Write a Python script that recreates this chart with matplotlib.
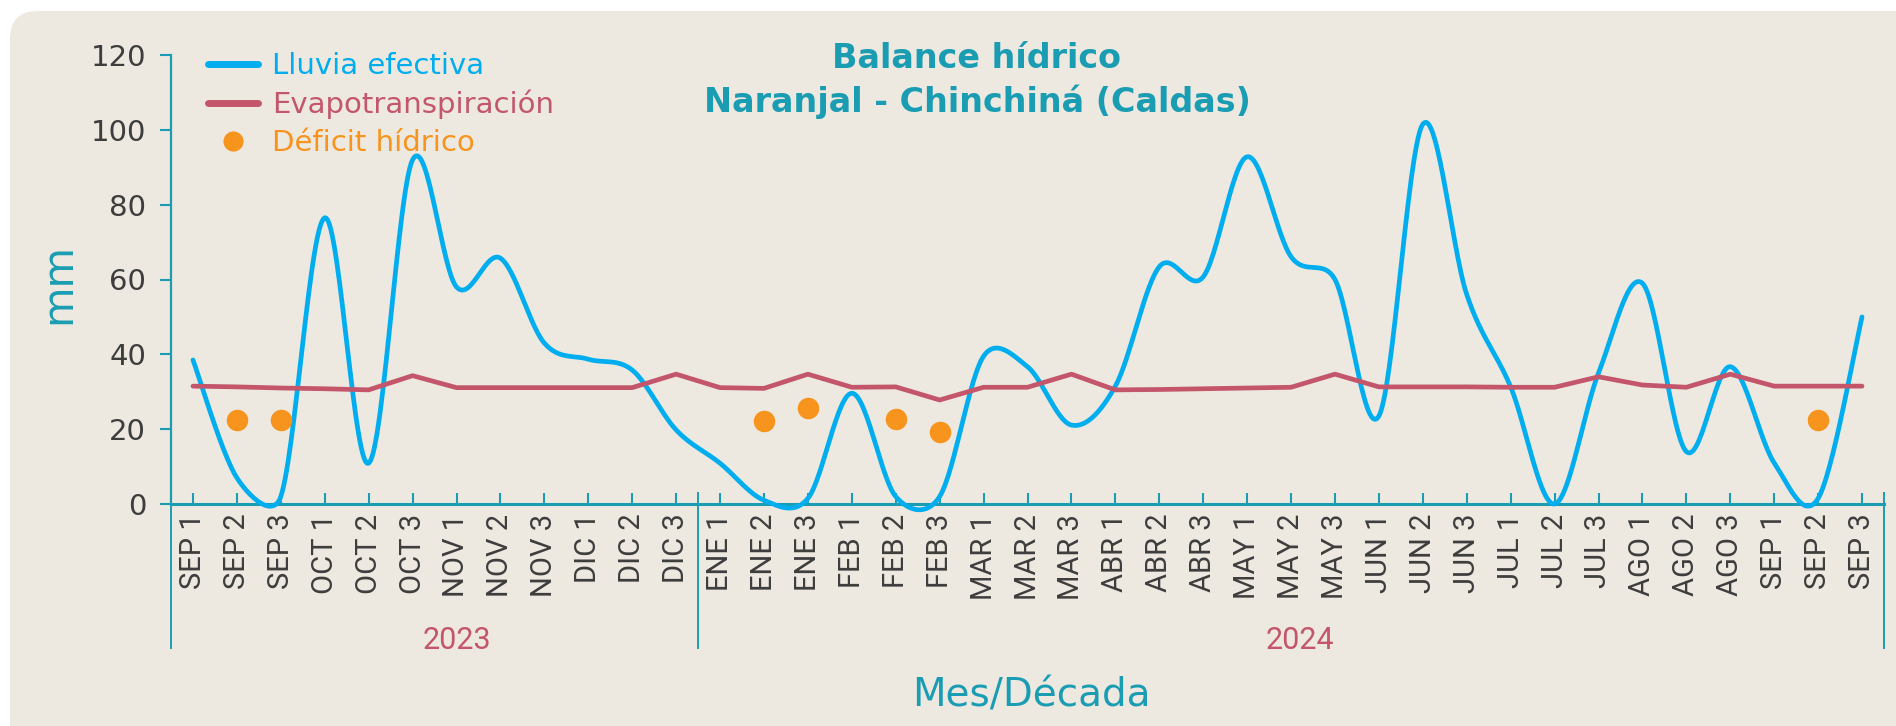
import numpy as np
import matplotlib
matplotlib.use("Agg")
import matplotlib.pyplot as plt
from matplotlib.patches import FancyBboxPatch
from matplotlib.lines import Line2D
import matplotlib.transforms as mtransforms

# decades (month + decade number)
months_2023 = ["SEP", "OCT", "NOV", "DIC"]
months_2024 = ["ENE", "FEB", "MAR", "ABR", "MAY", "JUN", "JUL", "AGO", "SEP"]
labels = [f"{m} {d}" for m in months_2023 for d in (1, 2, 3)] + \
         [f"{m} {d}" for m in months_2024 for d in (1, 2, 3)]

lluvia = [38.5, 7, 2, 76.5, 10.9, 92, 58, 65.7, 43, 38.7, 35.8, 19.8,
          10.9, 1, 1.5, 29.6, 2, 2, 39.5, 36.7, 21.1, 31.5, 63.4, 60.7,
          92.8, 66.1, 60, 23.5, 101.5, 56, 31.3, 0, 35, 59, 14, 36.7,
          11, 1.5, 50]
evapo = [31.5, 31.3, 31.0, 30.8, 30.5, 34.3, 31.1, 31.1, 31.1, 31.1, 31.1, 34.7,
         31.1, 30.9, 34.7, 31.2, 31.3, 27.8, 31.2, 31.2, 34.7, 30.5, 30.6, 30.8,
         31.0, 31.2, 34.7, 31.3, 31.3, 31.3, 31.2, 31.2, 34.0, 31.8, 31.2, 34.7,
         31.5, 31.5, 31.5]
deficit = [np.nan] * 39
for i, v in [(1, 22.4), (2, 22.4), (13, 22.3), (14, 25.6), (16, 22.6), (17, 19.3), (37, 22.4)]:
    deficit[i] = v

years = ["2023", "2024"]
year_pos = [6.0, 25.2]

BLUE = "#00AEEF"
RED = "#C4566B"
ORANGE = "#F7941D"
TEAL = "#1A9DB2"
BG = "#EDE9E1"
DARK = "#3D3D3D"
FONT = "DejaVu Sans"


def smooth(y, kx=43.9, ky=3.742, n=30):
    # bezier smoothing the way spreadsheet "smoothed lines" do it (in pixel space)
    y = np.asarray(y, float)
    P = np.column_stack([np.arange(len(y)) * kx, y * ky])
    out = []
    t = np.linspace(0, 1, n, endpoint=False)[:, None]
    for i in range(len(y) - 1):
        P0 = P[i - 1] if i > 0 else P[i]
        P1, P2 = P[i], P[i + 1]
        P3 = P[i + 2] if i + 2 < len(y) else P[i + 1]
        d12 = np.hypot(*(P2 - P1))
        d02 = np.hypot(*(P2 - P0))
        d13 = np.hypot(*(P3 - P1))
        f1 = 1/6 if d02 / 6 < d12 / 2 else d12 / (2 * d02)
        f2 = 1/6 if d13 / 6 < d12 / 2 else d12 / (2 * d13)
        C1 = P1 + f1 * (P2 - P0)
        C2 = P2 - f2 * (P3 - P1)
        out.append((1-t)**3*P1 + 3*(1-t)**2*t*C1 + 3*(1-t)*t**2*C2 + t**3*P2)
    out.append(P[-1:])
    out = np.vstack(out)
    return out[:, 0] / kx, out[:, 1] / ky


fig = plt.figure(figsize=(18.96, 7.26), dpi=100, facecolor="white")
bg = FancyBboxPatch((0.10, -0.5), 20, 7.26 - 0.11 + 0.5, boxstyle="round,pad=0,rounding_size=0.28",
                    transform=fig.dpi_scale_trans, facecolor=BG, edgecolor="none", zorder=-5)
fig.patches.append(bg)

ax = fig.add_axes([171/1896, 1 - 504/726, (1884 - 171)/1896, (504 - 55)/726])
ax.set_facecolor("none")
x = np.arange(len(labels))

sx, sy = smooth(lluvia)
ax.plot(sx, sy, color=BLUE, lw=3.4, solid_capstyle="round", clip_on=False, zorder=3)
ax.plot(x, evapo, color=RED, lw=3.4, solid_capstyle="round", clip_on=False, zorder=4)
ax.plot(x, deficit, "o", color=ORANGE, ms=15.5, mew=0, clip_on=False, zorder=5)

ax.set_xlim(-0.5, 38.5)
ax.set_ylim(0, 120)
ax.set_yticks(range(0, 121, 20))
ax.set_xticks(x)
ax.set_xticklabels(labels, rotation=90, fontsize=21, family="Roboto", color=DARK)
for lab in ax.get_yticklabels():
    lab.set_family(FONT)
    lab.set_fontsize(21)
    lab.set_color(DARK)

for s in ["top", "right"]:
    ax.spines[s].set_visible(False)
for s in ["left", "bottom"]:
    ax.spines[s].set_color(TEAL)
ax.spines["left"].set_linewidth(1.6)
ax.spines["bottom"].set_linewidth(2.2)
ax.tick_params(axis="x", direction="in", length=8, width=1.5, color=TEAL, pad=7)
ax.tick_params(axis="y", direction="out", length=8, width=1.5, color=TEAL, pad=10)

# year group separators
tr = mtransforms.blended_transform_factory(ax.transData, ax.transAxes)
for xs_ in [-0.5, 11.5, 38.5]:
    ax.plot([xs_, xs_], [0.025 if xs_ > 0 else 0, -0.321], color=TEAL, lw=1.4,
            transform=tr, clip_on=False)
for yr, xp in zip(years, year_pos):
    ax.text(xp, -0.305, yr, transform=tr, ha="center", va="center",
            fontsize=22, family="Roboto", color=RED)

fig.text(1031/1896, 1 - 707/726, "Mes/Década", ha="center", va="baseline",
         fontsize=28, family=FONT, color=TEAL)
fig.text(58/1896, 1 - 283/726, "mm", rotation=90, ha="center", va="center",
         fontsize=30, family=FONT, color=TEAL)
fig.text(977/1896, 1 - 68/726, "Balance hídrico", ha="center", va="baseline",
         fontsize=24, family=FONT, weight="bold", color=TEAL)
fig.text(977/1896, 1 - 112/726, "Naranjal - Chinchiná (Caldas)", ha="center", va="baseline",
         fontsize=24, family=FONT, weight="bold", color=TEAL)

handles = [Line2D([], [], color=BLUE, lw=5, solid_capstyle="round"),
           Line2D([], [], color=RED, lw=5, solid_capstyle="round"),
           Line2D([], [], ls="none", marker="o", color=ORANGE, ms=14.5, mew=0)]
leg = fig.legend(handles, ["Lluvia efectiva", "Evapotranspiración", "Déficit hídrico"],
                 loc="upper left", bbox_to_anchor=(208/1896, 1 - 52/726), frameon=False,
                 prop={"family": FONT, "size": 21}, handlelength=1.7, handletextpad=0.5,
                 labelspacing=0.33, borderpad=0, borderaxespad=0)
for t, c in zip(leg.get_texts(), [BLUE, RED, ORANGE]):
    t.set_color(c)

fig.savefig("out.png", dpi=100, facecolor="white")
